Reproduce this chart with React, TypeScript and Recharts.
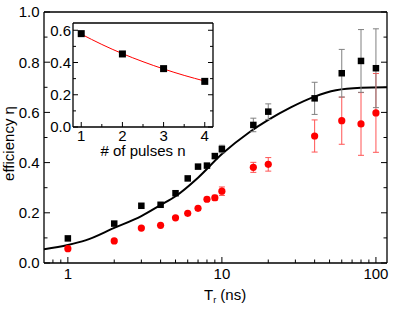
import React from 'react';
import { ComposedChart, Line, Scatter, ErrorBar, XAxis, YAxis } from 'recharts';

const FONT = '"Liberation Sans", Arial, Helvetica, sans-serif';

// main panel: efficiency vs T_r
const trNs = [1, 2, 3, 4, 5, 6, 7, 8, 9, 10, 16, 20, 40, 60, 80, 100];
const effBlack = [0.098, 0.157, 0.228, 0.232, 0.278, 0.337, 0.384, 0.388, 0.426, 0.454, 0.55, 0.603, 0.656, 0.756, 0.805, 0.776];
const errBlack = [0, 0, 0, 0, 0, 0, 0.008, 0.008, 0.01, 0.015, 0.027, 0.031, 0.064, 0.095, 0.125, 0.157];
const effRed = [0.057, 0.088, 0.139, 0.15, 0.18, 0.198, 0.218, 0.254, 0.26, 0.286, 0.381, 0.393, 0.506, 0.567, 0.554, 0.598];
const errRed = [0, 0, 0, 0, 0, 0, 0, 0.008, 0.01, 0.017, 0.02, 0.027, 0.064, 0.094, 0.125, 0.157];

// model curve
const fitTr = [0.7, 1, 1.3, 2, 3, 4, 5, 7, 10, 15, 20, 28, 40, 55, 80, 118];
const fitEff = [0.055, 0.072, 0.09, 0.14, 0.187, 0.231, 0.266, 0.34, 0.434, 0.52, 0.57, 0.62, 0.663, 0.688, 0.698, 0.7];

const xTicks = [0.8, 0.9, 1, 2, 3, 4, 5, 6, 7, 8, 9, 10, 20, 30, 40, 50, 60, 70, 80, 90, 100];
const xMajor = [1, 10, 100];
const yTicks = [0, 0.1, 0.2, 0.3, 0.4, 0.5, 0.6, 0.7, 0.8, 0.9, 1.0];

// inset: efficiency vs number of pulses
const pulses = [1, 2, 3, 4];
const effPulses = [0.579, 0.453, 0.362, 0.283];
const fitN = [1, 1.5, 2, 2.5, 3, 3.5, 4];
const fitNEff = [0.576, 0.512, 0.455, 0.405, 0.36, 0.32, 0.285];

const nTicks = [1, 1.5, 2, 2.5, 3, 3.5, 4];
const insetYTicks = [0, 0.1, 0.2, 0.3, 0.4, 0.5, 0.6];

const blackData = trNs.map((x, i) => ({ x, y: effBlack[i], err: errBlack[i] }));
const redData = trNs.map((x, i) => ({ x, y: effRed[i], err: errRed[i] }));
const fitData = fitTr.map((x, i) => ({ x, y: fitEff[i] }));
const pulseData = pulses.map((x, i) => ({ x, y: effPulses[i] }));
const fitNData = fitN.map((x, i) => ({ x, y: fitNEff[i] }));

const evenTenth = (v: number) => Math.round(v * 10) % 2 === 0;

type Side = 'bottom' | 'top' | 'left' | 'right';

// inward ticks drawn by hand (tickSize=0 so x/y is the axis line)
const tickFn = (
  side: Side,
  isMajor: (v: number) => boolean,
  major: number,
  minor: number,
  label?: (v: number) => string,
  gap = 0
) => (props: any) => {
  const { x, y, payload } = props;
  const v = payload.value;
  const big = isMajor(v);
  const len = big ? major : minor;
  let line = null;
  let text = null;
  if (side === 'bottom') {
    line = <line x1={x} x2={x} y1={y} y2={y - len} />;
    if (big && label) text = <text x={x} y={y + gap} textAnchor="middle">{label(v)}</text>;
  } else if (side === 'top') {
    line = <line x1={x} x2={x} y1={y} y2={y + len} />;
  } else if (side === 'left') {
    line = <line x1={x} x2={x + len} y1={y} y2={y} />;
    if (big && label) text = <text x={x - gap} y={y + 5.3} textAnchor="end">{label(v)}</text>;
  } else {
    line = <line x1={x} x2={x - len} y1={y} y2={y} />;
  }
  return (
    <g>
      <g stroke="#000" strokeWidth={1}>{line}</g>
      <g fill="#000" fontSize={15} fontFamily={FONT}>{text}</g>
    </g>
  );
};

const Square = (size: number) => (p: any) => (
  <rect x={p.cx - size / 2} y={p.cy - size / 2} width={size} height={size} fill="#000" />
);
const Dot = (p: any) => <circle cx={p.cx} cy={p.cy} r={3.6} fill="#ff0000" />;

const axisLine = { stroke: '#000', strokeWidth: 1.3 };

const InsetChart = () => (
  <ComposedChart width={230} height={165} margin={{ top: 22, right: 16, bottom: 5, left: 45 }}>
    <XAxis
      dataKey="x"
      type="number"
      domain={[0.8, 4.2]}
      allowDataOverflow
      ticks={nTicks}
      interval={0}
      height={33}
      tickSize={0}
      tickMargin={0}
      tickLine={false}
      axisLine={axisLine}
      tick={tickFn('bottom', (v) => Number.isInteger(v), 5, 3, (v) => String(v), 13.5)}
      label={{
        content: () => (
          <text x={143} y={156} textAnchor="middle" fontSize={15} fontFamily={FONT} fill="#000">
            # of pulses n
          </text>
        ),
      }}
    />
    <XAxis
      xAxisId="t"
      orientation="top"
      type="number"
      domain={[0.8, 4.2]}
      allowDataOverflow
      ticks={nTicks}
      interval={0}
      height={1}
      tickSize={0}
      tickMargin={0}
      tickLine={false}
      axisLine={axisLine}
      tick={tickFn('top', (v) => Number.isInteger(v), 5, 3)}
    />
    <YAxis
      dataKey="y"
      type="number"
      domain={[0, 0.645]}
      allowDataOverflow
      ticks={insetYTicks}
      interval={0}
      width={28}
      tickSize={0}
      tickMargin={0}
      tickLine={false}
      axisLine={axisLine}
      tick={tickFn('left', evenTenth, 5, 3, (v) => v.toFixed(1), 2)}
    />
    <YAxis
      yAxisId="r"
      orientation="right"
      type="number"
      domain={[0, 0.645]}
      allowDataOverflow
      ticks={insetYTicks}
      interval={0}
      width={1}
      tickSize={0}
      tickMargin={0}
      tickLine={false}
      axisLine={axisLine}
      tick={tickFn('right', evenTenth, 5, 3)}
    />
    <Line
      data={fitNData}
      dataKey="y"
      type="monotone"
      stroke="#ff0000"
      strokeWidth={1}
      dot={false}
      isAnimationActive={false}
    />
    <Scatter data={pulseData} shape={Square(7)} isAnimationActive={false} />
  </ComposedChart>
);

export default function App() {
  return (
    <div style={{ position: 'absolute', left: 0, top: 0, width: 398, height: 313, background: '#fff' }}>
      <ComposedChart width={398} height={313} margin={{ top: 11, right: 10, bottom: 10, left: 14 }}>
        <XAxis
          dataKey="x"
          type="number"
          scale="log"
          domain={[0.7, 118]}
          allowDataOverflow
          ticks={xTicks}
          interval={0}
          height={40}
          tickSize={0}
          tickMargin={0}
          tickLine={false}
          axisLine={axisLine}
          tick={tickFn('bottom', (v) => xMajor.includes(v), 6, 3.5, (v) => String(v), 15.5)}
          label={{
            content: () => (
              <text x={204} y={299.5} fontSize={15} fontFamily={FONT} fill="#000">
                T
                <tspan fontSize={9} dy={3}>r</tspan>
                <tspan dy={-3}> (ns)</tspan>
              </text>
            ),
          }}
        />
        <XAxis
          xAxisId="top"
          orientation="top"
          type="number"
          scale="log"
          domain={[0.7, 118]}
          allowDataOverflow
          ticks={xTicks}
          interval={0}
          height={1}
          tickSize={0}
          tickMargin={0}
          tickLine={false}
          axisLine={axisLine}
          tick={tickFn('top', (v) => xMajor.includes(v), 6, 3.5)}
        />
        <YAxis
          dataKey="y"
          type="number"
          domain={[0, 1]}
          allowDataOverflow
          ticks={yTicks}
          interval={0}
          width={30}
          tickSize={0}
          tickMargin={0}
          tickLine={false}
          axisLine={axisLine}
          tick={tickFn('left', evenTenth, 6, 3.5, (v) => v.toFixed(1), 4.5)}
          label={{
            content: () => (
              <text
                x={13.5}
                y={143.5}
                transform="rotate(-90 13.5 143.5)"
                textAnchor="middle"
                fontSize={15}
                fontFamily={FONT}
                fill="#000"
              >
                efficiency η
              </text>
            ),
          }}
        />
        <YAxis
          yAxisId="right"
          orientation="right"
          type="number"
          domain={[0, 1]}
          allowDataOverflow
          ticks={yTicks}
          interval={0}
          width={1}
          tickSize={0}
          tickMargin={0}
          tickLine={false}
          axisLine={axisLine}
          tick={tickFn('right', evenTenth, 6, 3.5)}
        />
        <Line
          data={fitData}
          dataKey="y"
          type="monotone"
          stroke="#000"
          strokeWidth={2}
          dot={false}
          isAnimationActive={false}
        />
        <Scatter data={redData} shape={Dot} isAnimationActive={false}>
          <ErrorBar dataKey="err" direction="y" width={3} stroke="#ff5555" strokeWidth={1} />
        </Scatter>
        <Scatter data={blackData} shape={Square(6.5)} isAnimationActive={false}>
          <ErrorBar dataKey="err" direction="y" width={3} stroke="#808080" strokeWidth={1} />
        </Scatter>
      </ComposedChart>
      <div style={{ position: 'absolute', left: 0, top: 0 }}>
        <InsetChart />
      </div>
    </div>
  );
}
